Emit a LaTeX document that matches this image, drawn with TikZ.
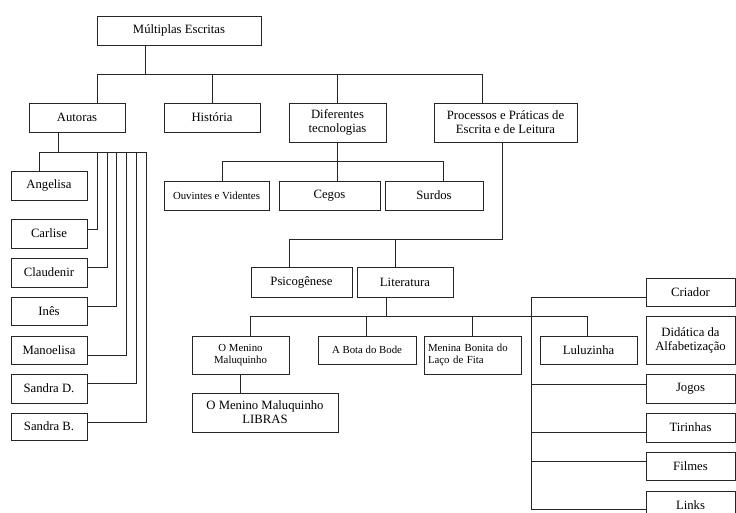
\documentclass[tikz,border=0pt]{standalone}
\usepackage{fontspec}
\setmainfont{Liberation Serif}
\begin{document}
\begin{tikzpicture}[x=1pt,y=-1pt, line width=0.9pt, color=black!85,
  bx/.style={draw, text=black, inner sep=0pt, align=center, font=\fontsize{12.7}{14}\selectfont},
  sm/.style={font=\fontsize{10.8}{12.5}\selectfont}]
\useasboundingbox (0,0) rectangle (736,513);
\begin{scope}
\clip (0,0) rectangle (736,513);
% level 0/1
\node[bx, minimum width=164pt, minimum height=29pt] (top) at (179,30.5) {Múltiplas Escritas};
\node[bx, minimum width=96pt, minimum height=29pt] (autoras) at (77,117.5) {Autoras};
\node[bx, minimum width=96pt, minimum height=29pt] (hist) at (212,117.5) {História};
\node[bx, minimum width=97pt, minimum height=39pt] (dif) at (337.5,122.5) {Diferentes\\tecnologias};
\node[bx, minimum width=143pt, minimum height=39pt] (proc) at (505.5,122.5) {Processos e Práticas de\\Escrita e de Leitura};
% tecnologias
\node[bx, sm, minimum width=105pt, minimum height=29pt] (ouv) at (216.5,195.5) {Ouvintes e Videntes};
\node[bx, minimum width=101pt, minimum height=29pt] (cegos) at (329.5,195.5) {Cegos};
\node[bx, minimum width=98pt, minimum height=29pt] (surdos) at (434,195.5) {Surdos};
% processos
\node[bx, minimum width=101pt, minimum height=30pt] (psico) at (301.5,282) {Psicogênese};
\node[bx, minimum width=96pt, minimum height=30pt] (lit) at (405,282) {Literatura};
\node[bx, sm, minimum width=97pt, minimum height=38pt] (omm) at (240.5,355) {O Menino\\Maluquinho};
\node[bx, sm, minimum width=98pt, minimum height=28pt] (bota) at (367,350) {A Bota do Bode};
\node[bx, sm, align=left, text width=89pt, minimum width=97pt, minimum height=38pt] (menina) at (472.5,355) {Menina Bonita do\\Laço de Fita};
\node[bx, minimum width=97pt, minimum height=28pt] (lulu) at (588.5,350) {Luluzinha};
\node[bx, minimum width=146pt, minimum height=39pt] (libras) at (265,412.5) {O Menino Maluquinho\\LIBRAS};
% right column
\node[bx, minimum width=89pt, minimum height=28pt] (criador) at (690.5,292) {Criador};
\node[bx, minimum width=89pt, minimum height=48pt] (didatica) at (690.5,340) {Didática da\\Alfabetização};
\node[bx, minimum width=89pt, minimum height=29pt] (jogos) at (690.5,388.5) {Jogos};
\node[bx, minimum width=89pt, minimum height=29pt] (tirinhas) at (690.5,427.5) {Tirinhas};
\node[bx, minimum width=89pt, minimum height=28pt] (filmes) at (690.5,466) {Filmes};
\node[bx, minimum width=89pt, minimum height=28pt] (links) at (690.5,505) {Links};
% authors
\node[bx, minimum width=76pt, minimum height=29pt] (angelisa) at (49,185.5) {Angelisa};
\node[bx, minimum width=76pt, minimum height=29pt] (carlise) at (49,233.5) {Carlise};
\node[bx, minimum width=76pt, minimum height=29pt] (claudenir) at (49,272.5) {Claudenir};
\node[bx, minimum width=76pt, minimum height=28pt] (ines) at (49,311) {Inês};
\node[bx, minimum width=76pt, minimum height=28pt] (manoelisa) at (49,350) {Manoelisa};
\node[bx, minimum width=76pt, minimum height=29pt] (sandrad) at (49,388.5) {Sandra D.};
\node[bx, minimum width=76pt, minimum height=27pt] (sandrab) at (49,426.5) {Sandra B.};

% bus coordinates
\coordinate (b0) at (0,74);
\coordinate (b1) at (0,161);
\coordinate (b2) at (0,239);
\coordinate (b3) at (0,316);
\coordinate (b4) at (0,152);
\coordinate (sp) at (531,0);

% top level
\draw ([xshift=-34pt]top.south) -- ([xshift=-34pt]top.south |- b0);
\draw ([xshift=20pt]autoras.north) |- ([xshift=-23.5pt]proc.north |- b0) -- ([xshift=-23.5pt]proc.north);
\draw (hist.north) -- (hist.north |- b0);
\draw (dif.north) -- (dif.north |- b0);
% tecnologias
\draw (dif.south) -- (dif.south |- cegos.north);
\draw ([xshift=5.5pt]ouv.north) |- ([xshift=9pt]surdos.north |- b1) -- ([xshift=9pt]surdos.north);
% processos
\draw ([xshift=-3.5pt]proc.south) |- ([xshift=-12.5pt]psico.north |- b2) -- ([xshift=-12.5pt]psico.north);
\draw ([xshift=-10pt]lit.north) -- ([xshift=-10pt]lit.north |- b2);
% literatura
\draw ([xshift=-19pt]lit.south) -- ([xshift=-19pt]lit.south |- b3);
\draw ([xshift=9.5pt]omm.north) |- ([xshift=-1.5pt]lulu.north |- b3) -- ([xshift=-1.5pt]lulu.north);
\draw ([xshift=-1pt]bota.north) -- ([xshift=-1pt]bota.north |- b3);
\draw (menina.north) -- (menina.north |- b3);
\draw (omm.south) -- (libras.north -| omm.south);
% right column
\coordinate (cr) at ([yshift=-5pt]criador.west);
\coordinate (jg) at ([yshift=4.5pt]jogos.west);
\coordinate (tr) at ([yshift=-4.5pt]tirinhas.west);
\coordinate (fm) at ([yshift=5pt]filmes.west);
\coordinate (lk) at ([yshift=-4pt]links.west);
\draw (cr) -- (sp |- cr) -- (sp |- lk) -- (lk);
\draw (jg) -- (sp |- jg);
\draw (tr) -- (sp |- tr);
\draw (fm) -- (sp |- fm);
% authors
\coordinate (t1) at (97,152);
\coordinate (t2) at (107,152);
\coordinate (t3) at (116,152);
\coordinate (t4) at (126,152);
\coordinate (t5) at (136,152);
\coordinate (t6) at (146,152);
\draw ([xshift=-19pt]autoras.south) -- ([xshift=-19pt]autoras.south |- b4);
\draw ([xshift=-10pt]angelisa.north) |- (t6) |- ([yshift=4.5pt]sandrab.east);
\draw ([yshift=4.5pt]carlise.east) -| (t1);
\draw ([yshift=5.5pt]claudenir.east) -| (t2);
\draw ([yshift=5pt]ines.east) -| (t3);
\draw ([yshift=-5pt]manoelisa.east) -| (t4);
\draw ([yshift=5.5pt]sandrad.east) -| (t5);
\end{scope}
\end{tikzpicture}
\end{document}
